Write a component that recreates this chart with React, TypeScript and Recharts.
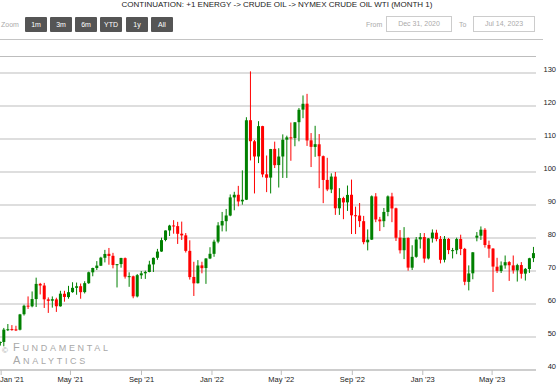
import React from "react";
import { Bar, CartesianGrid, ComposedChart, XAxis, YAxis } from "recharts";

type Row = [string, number, number, number, number]; // date, open, high, low, close

// weekly candles (dated mid-week), WTI front month
const ohlc2021: Row[] = [
  ["2020-12-31", 48.4, 48.6, 47.4, 48.5],
  ["2021-01-06", 48.5, 52.75, 47.18, 52.24],
  ["2021-01-13", 52.2, 53.93, 51.8, 52.36],
  ["2021-01-20", 52.4, 53.6, 51.9, 52.27],
  ["2021-01-27", 52.3, 53.4, 51.8, 52.2],
  ["2021-02-03", 52.2, 57.0, 52.0, 56.85],
  ["2021-02-10", 56.9, 59.8, 56.5, 59.47],
  ["2021-02-17", 59.5, 62.3, 58.5, 59.24],
  ["2021-02-24", 59.3, 63.8, 59.0, 61.5],
  ["2021-03-03", 61.5, 67.98, 59.1, 66.09],
  ["2021-03-10", 66.1, 66.4, 62.9, 65.61],
  ["2021-03-17", 65.6, 66.4, 58.8, 61.42],
  ["2021-03-24", 61.4, 62.0, 57.3, 60.97],
  ["2021-03-31", 61.0, 62.3, 58.9, 61.45],
  ["2021-04-07", 61.4, 61.9, 57.6, 59.32],
  ["2021-04-14", 59.3, 64.0, 59.2, 63.13],
  ["2021-04-21", 63.1, 64.0, 60.7, 62.14],
  ["2021-04-28", 62.1, 65.5, 61.6, 63.58],
  ["2021-05-05", 63.6, 66.6, 63.4, 64.9],
  ["2021-05-12", 64.9, 66.5, 62.8, 65.37],
  ["2021-05-19", 65.4, 66.2, 61.6, 63.58],
  ["2021-05-26", 63.6, 66.9, 63.2, 66.32],
  ["2021-06-02", 66.3, 69.8, 66.1, 69.62],
  ["2021-06-09", 69.6, 71.0, 68.4, 70.91],
  ["2021-06-16", 70.9, 72.99, 70.3, 71.64],
  ["2021-06-23", 71.6, 74.3, 71.5, 74.05],
  ["2021-06-30", 74.0, 76.4, 72.6, 75.16],
  ["2021-07-07", 75.2, 76.98, 71.9, 74.56],
  ["2021-07-14", 74.6, 75.5, 70.8, 71.81],
  ["2021-07-21", 71.8, 72.1, 65.01, 72.07],
  ["2021-07-28", 72.1, 74.0, 71.0, 73.95],
  ["2021-08-04", 73.9, 74.1, 67.7, 68.28],
  ["2021-08-11", 68.3, 69.6, 65.2, 68.44],
  ["2021-08-18", 68.4, 68.6, 61.74, 62.32],
  ["2021-08-25", 62.3, 69.1, 62.0, 68.74],
  ["2021-09-01", 68.7, 70.0, 67.6, 69.29],
  ["2021-09-08", 69.3, 70.1, 67.6, 69.72],
  ["2021-09-15", 69.7, 73.1, 69.6, 71.97],
  ["2021-09-22", 72.0, 74.1, 69.7, 73.98],
  ["2021-09-29", 74.0, 76.7, 73.4, 75.88],
  ["2021-10-06", 75.9, 80.1, 75.8, 79.35],
  ["2021-10-13", 79.4, 82.3, 79.0, 82.28],
  ["2021-10-20", 82.3, 84.0, 80.6, 83.76],
  ["2021-10-27", 83.8, 85.41, 81.3, 83.57],
  ["2021-11-03", 83.6, 84.9, 78.2, 81.27],
  ["2021-11-10", 81.3, 84.97, 79.4, 80.79],
  ["2021-11-17", 80.8, 81.5, 75.6, 76.1],
  ["2021-11-24", 76.1, 79.3, 67.4, 68.15],
  ["2021-12-01", 68.2, 72.8, 62.43, 66.26],
  ["2021-12-08", 66.3, 73.3, 66.2, 71.67],
  ["2021-12-15", 71.7, 72.8, 69.3, 70.86],
  ["2021-12-22", 70.9, 73.9, 66.1, 73.79],
  ["2021-12-29", 73.8, 77.2, 73.6, 75.21],
];

const ohlc2022: Row[] = [
  ["2022-01-05", 75.2, 79.5, 74.3, 78.9],
  ["2022-01-12", 78.9, 84.8, 78.4, 83.82],
  ["2022-01-19", 83.8, 87.9, 82.0, 85.14],
  ["2022-01-26", 85.1, 88.8, 82.0, 86.82],
  ["2022-02-02", 86.8, 93.2, 86.6, 92.31],
  ["2022-02-09", 92.3, 94.0, 88.4, 93.1],
  ["2022-02-16", 93.1, 95.8, 89.6, 91.07],
  ["2022-02-23", 91.1, 100.5, 90.1, 91.59],
  ["2022-03-02", 91.6, 116.6, 91.5, 115.68],
  ["2022-03-09", 115.7, 130.5, 103.5, 109.33],
  ["2022-03-16", 109.3, 109.7, 93.5, 104.7],
  ["2022-03-23", 104.7, 115.4, 102.7, 113.9],
  ["2022-03-30", 113.9, 114.0, 98.4, 99.27],
  ["2022-04-06", 99.3, 105.0, 93.9, 98.26],
  ["2022-04-13", 98.3, 107.0, 93.5, 106.95],
  ["2022-04-20", 107.0, 109.2, 101.2, 102.07],
  ["2022-04-27", 102.1, 107.2, 95.3, 104.69],
  ["2022-05-04", 104.7, 111.4, 98.2, 109.77],
  ["2022-05-11", 109.8, 111.0, 98.2, 110.49],
  ["2022-05-18", 110.5, 115.0, 103.4, 110.28],
  ["2022-05-25", 110.3, 115.1, 107.8, 115.07],
  ["2022-06-01", 115.1, 119.4, 109.3, 118.87],
  ["2022-06-08", 118.9, 123.2, 116.3, 120.67],
  ["2022-06-15", 120.7, 123.68, 107.9, 109.56],
  ["2022-06-22", 109.6, 111.8, 101.5, 107.62],
  ["2022-06-29", 107.6, 114.0, 104.6, 108.43],
  ["2022-07-06", 108.4, 111.5, 95.1, 104.79],
  ["2022-07-13", 104.8, 105.0, 90.56, 97.59],
  ["2022-07-20", 97.6, 104.3, 94.2, 94.7],
  ["2022-07-27", 94.7, 99.6, 93.6, 98.62],
  ["2022-08-03", 98.6, 100.0, 87.0, 89.01],
  ["2022-08-10", 89.0, 95.1, 87.0, 92.09],
  ["2022-08-17", 92.1, 92.5, 85.7, 90.77],
  ["2022-08-24", 90.8, 95.9, 88.2, 93.06],
  ["2022-08-31", 93.1, 97.7, 81.2, 86.87],
  ["2022-09-07", 86.9, 89.5, 81.2, 86.79],
  ["2022-09-14", 86.8, 90.6, 83.3, 85.11],
  ["2022-09-21", 85.1, 86.7, 78.1, 78.74],
  ["2022-09-28", 78.7, 82.6, 76.25, 79.49],
  ["2022-10-05", 79.5, 92.9, 79.4, 92.64],
  ["2022-10-12", 92.6, 93.6, 84.8, 85.61],
  ["2022-10-19", 85.6, 86.4, 82.1, 85.05],
  ["2022-10-26", 85.1, 89.1, 83.3, 87.9],
  ["2022-11-02", 87.9, 92.9, 86.6, 92.61],
  ["2022-11-09", 92.6, 93.7, 84.8, 88.96],
  ["2022-11-16", 89.0, 89.2, 79.1, 80.08],
  ["2022-11-23", 80.1, 82.4, 75.3, 76.28],
  ["2022-11-30", 76.3, 83.3, 73.6, 79.98],
  ["2022-12-07", 80.0, 80.2, 70.1, 71.02],
  ["2022-12-14", 71.0, 77.8, 70.3, 74.29],
  ["2022-12-21", 74.3, 80.3, 74.0, 79.56],
  ["2022-12-28", 79.6, 81.5, 76.8, 80.26],
];

const ohlc2023: Row[] = [
  ["2023-01-04", 80.3, 81.5, 72.5, 73.77],
  ["2023-01-11", 73.8, 80.0, 73.5, 79.86],
  ["2023-01-18", 79.9, 82.6, 78.6, 81.64],
  ["2023-01-25", 81.6, 82.5, 79.0, 79.68],
  ["2023-02-01", 79.7, 80.6, 72.3, 73.39],
  ["2023-02-08", 73.4, 80.6, 72.6, 79.72],
  ["2023-02-15", 79.7, 80.0, 75.1, 76.34],
  ["2023-02-22", 76.3, 77.0, 73.8, 76.32],
  ["2023-03-01", 76.3, 80.1, 75.1, 79.68],
  ["2023-03-08", 79.7, 81.0, 74.8, 76.68],
  ["2023-03-15", 76.7, 77.0, 65.7, 66.74],
  ["2023-03-22", 66.7, 71.7, 64.12, 69.26],
  ["2023-03-29", 69.3, 75.7, 67.5, 75.67],
  ["2023-04-05", 80.1, 81.8, 79.0, 80.7],
  ["2023-04-12", 80.7, 83.5, 79.4, 82.52],
  ["2023-04-19", 82.5, 83.0, 77.1, 77.87],
  ["2023-04-26", 77.9, 79.2, 74.0, 76.78],
  ["2023-05-03", 76.8, 76.9, 63.64, 71.34],
  ["2023-05-10", 71.3, 74.0, 69.4, 70.04],
  ["2023-05-17", 70.0, 72.9, 69.4, 71.69],
  ["2023-05-24", 71.7, 74.7, 70.7, 72.67],
  ["2023-05-31", 72.7, 73.0, 67.0, 71.74],
  ["2023-06-07", 71.7, 74.7, 69.2, 70.17],
  ["2023-06-14", 70.2, 72.2, 66.8, 71.78],
  ["2023-06-21", 71.8, 72.7, 67.7, 69.16],
  ["2023-06-28", 69.2, 70.9, 67.1, 70.64],
  ["2023-07-05", 70.6, 74.0, 69.4, 73.86],
  ["2023-07-12", 73.9, 77.3, 72.7, 75.42],
];

const tickDates = ["2021-01-01", "2021-05-01", "2021-09-01", "2022-01-01", "2022-05-01", "2022-09-01", "2023-01-01", "2023-05-01"];
const tickLabels = ["Jan '21", "May '21", "Sep '21", "Jan '22", "May '22", "Sep '22", "Jan '23", "May '23"];
const priceTicks = [40, 50, 60, 70, 80, 90, 100, 110, 120, 130];
const zoomButtons = ["1m", "3m", "6m", "YTD", "1y", "All"];

const TITLE = "CONTINUATION: +1 ENERGY -> CRUDE OIL -> NYMEX CRUDE OIL WTI (MONTH 1)";

const dayOf = (s: string) => {
  const [y, m, d] = s.split("-").map(Number);
  return (Date.UTC(y, m - 1, d) - Date.UTC(2021, 0, 1)) / 86400000;
};

const data = [...ohlc2021, ...ohlc2022, ...ohlc2023].map(([date, open, high, low, close]) => ({
  t: dayOf(date),
  open,
  high,
  low,
  close,
  range: [low, high],
}));

const xTicks = tickDates.map(dayOf);
const FONT = '"Liberation Sans", Arial, sans-serif';

const Candle = (props: any) => {
  const { x, y, width, height, payload } = props;
  const { open, high, low, close } = payload;
  const top = Math.min(y, y + height);
  const h = Math.abs(height);
  const span = high - low || 1;
  const toY = (v: number) => top + ((high - v) / span) * h;
  const color = close >= open ? "#008000" : "#ff0000";
  const cx = x + width / 2;
  const yo = toY(open);
  const yc = toY(close);
  return (
    <g>
      <line x1={cx} x2={cx} y1={top} y2={top + h} stroke={color} strokeWidth={1} />
      <rect x={x} y={Math.min(yo, yc)} width={width} height={Math.max(1, Math.abs(yo - yc))} fill={color} />
    </g>
  );
};

const XTick = (props: any) => {
  const { x, y, payload, index } = props;
  const label = tickLabels[xTicks.indexOf(payload.value)] ?? "";
  return (
    <g>
      <line x1={x} x2={x} y1={y - 8} y2={y - 3} stroke="#bdbdbd" />
      <text x={index === 0 ? 0 : x} y={y + 4} textAnchor={index === 0 ? "start" : "middle"} fontSize={7.5} fill="#222" fontFamily={FONT}>
        {label}
      </text>
    </g>
  );
};

const YTick = (props: any) => {
  const { y, payload } = props;
  return (
    <text x={556} y={y - 3.5} textAnchor="end" dominantBaseline="central" fontSize={7.5} fill="#222" fontFamily={FONT}>
      {payload.value}
    </text>
  );
};

const markStyle = { position: "absolute" as const, left: 13, color: "#a8a8a8", letterSpacing: 2.7, lineHeight: "13px", height: 13, whiteSpace: "nowrap" as const };

export default function App() {
  return (
    <div style={{ position: "absolute", left: 0, top: 0, width: 559, height: 385, background: "#fff", fontFamily: FONT, overflow: "hidden" }}>
      <div style={{ position: "absolute", top: 0, left: 0, width: 554, textAlign: "center", fontSize: 8, lineHeight: "10px", color: "#222", whiteSpace: "nowrap" }}>{TITLE}</div>
      <div style={{ position: "absolute", top: 17, left: 1, lineHeight: "15px", fontSize: 7, color: "#aaa" }}>Zoom</div>
      {zoomButtons.map((b, i) => (
        <div
          key={b}
          style={{
            position: "absolute",
            top: 17,
            left: [25, 50, 75, 100, 126, 151][i],
            width: 22,
            height: 15,
            lineHeight: "15px",
            textAlign: "center",
            background: "#555",
            color: "#fff",
            fontSize: 7,
            borderRadius: 1,
          }}
        >
          {b}
        </div>
      ))}
      <div style={{ position: "absolute", top: 17, left: 366, lineHeight: "15px", fontSize: 7, color: "#aaa" }}>From</div>
      <div style={{ position: "absolute", top: 16, left: 386, width: 64, height: 14, border: "1px solid #ccc", lineHeight: "14px", textAlign: "center", fontSize: 7, color: "#aaa" }}>
        Dec 31, 2020
      </div>
      <div style={{ position: "absolute", top: 17, left: 459, lineHeight: "15px", fontSize: 7, color: "#aaa" }}>To</div>
      <div style={{ position: "absolute", top: 16, left: 473, width: 60, height: 14, border: "1px solid #ccc", lineHeight: "14px", textAlign: "center", fontSize: 7, color: "#aaa" }}>
        Jul 14, 2023
      </div>
      <div style={{ position: "absolute", top: 39, left: 0, width: 543, height: 1, background: "#c4c4c4" }} />

      <div style={{ position: "absolute", top: 0, left: 0 }}>
        <ComposedChart width={559} height={385} data={data} margin={{ top: 56.5, right: 0, bottom: 0, left: 0 }}>
          <CartesianGrid vertical={false} stroke="#bdbdbd" />
          <XAxis
            dataKey="t"
            type="number"
            domain={[-2, 926]}
            ticks={xTicks}
            height={15}
            stroke="#bdbdbd"
            tickLine={false}
            tick={<XTick />}
            allowDataOverflow
            interval={0}
          />
          <YAxis orientation="right" domain={[40, 135]} ticks={priceTicks} width={23} axisLine={false} tickLine={false} tick={<YTick />} allowDataOverflow interval={0} />
          <Bar dataKey="range" barSize={3} shape={<Candle />} isAnimationActive={false} />
        </ComposedChart>
      </div>

      <div style={{ position: "absolute", left: 2, top: 347, fontSize: 8, color: "#a8a8a8", lineHeight: "8px" }}>©</div>
      <div style={{ ...markStyle, top: 339 }}>
        <span style={{ fontSize: 11 }}>F</span>
        <span style={{ fontSize: 9 }}>UNDAMENTAL</span>
      </div>
      <div style={{ ...markStyle, top: 352 }}>
        <span style={{ fontSize: 11 }}>A</span>
        <span style={{ fontSize: 9 }}>NALYTICS</span>
      </div>
    </div>
  );
}
